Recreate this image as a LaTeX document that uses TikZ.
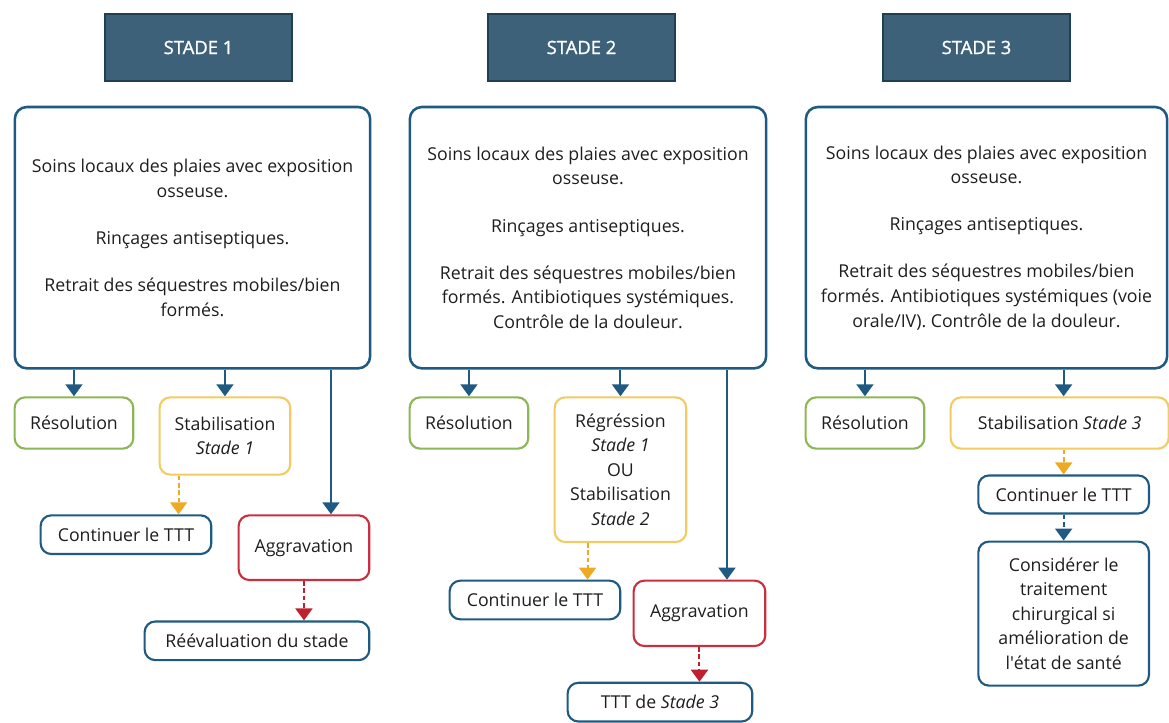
\documentclass[tikz,border=0pt]{standalone}
\usepackage{fontspec}
\setmainfont{Open Sans}
\newfontfamily\stadefont[FakeBold=1.2]{Open Sans}
\usetikzlibrary{positioning, arrows.meta, calc}
\definecolor{bleu}{HTML}{1E5A82}
\definecolor{fondstade}{HTML}{3D6179}
\definecolor{bordstade}{HTML}{1E3F55}
\definecolor{vert}{HTML}{8DB654}
\definecolor{jaune}{HTML}{F2CB62}
\definecolor{ambre}{HTML}{EDAA22}
\definecolor{rouge}{HTML}{C83040}
\definecolor{rougef}{HTML}{C0202E}
\definecolor{texte}{HTML}{1E1E1E}

\begin{document}
\begin{tikzpicture}[x=0.75pt, y=-0.75pt, font=\fontsize{13.3}{18.4}\selectfont, text=texte,
    stade/.style={draw=bordstade, fill=fondstade, line width=1.1pt, text=white, minimum width=140.25pt, minimum height=50.25pt, font=\fontsize{13.8}{18.4}\stadefont},
    soins/.style={draw=bleu, line width=1.9pt, rounded corners=9pt, align=center, inner sep=0pt, minimum height=196pt},
    bloc/.style={line width=1.6pt, rounded corners=8pt, align=center, inner sep=0pt},
    resol/.style={bloc, draw=vert, minimum width=89pt, minimum height=38.5pt},
    stab/.style={bloc, draw=jaune},
    aggr/.style={bloc, draw=rouge},
    ttt/.style={bloc, draw=bleu},
    fleche/.style={-{Triangle[width=12.75pt,length=9pt]}, line width=1.5pt, bleu},
    tirets/.style={dash pattern=on 3.5pt off 2pt}]
        \path[use as bounding box, clip] (0,0) rectangle (1169,722);

        \node[stade] (T1) at (198.5,47.5) {STADE 1};
        \node[stade] (T2) at (581.5,47.5) {STADE 2};
        \node[stade] (T3) at (976.5,47.5) {STADE 3};

        \node[soins, minimum width=266.5pt, below=18pt of T1, xshift=-4.5pt] (B1)
        {Soins locaux des plaies avec exposition\\osseuse.\\[17pt]Rinçages antiseptiques.\\[17pt]Retrait des séquestres mobiles/bien\\formés.};
        \node[soins, minimum width=267.25pt, below=18pt of T2, xshift=4.875pt] (B2)
        {Soins locaux des plaies avec exposition\\osseuse.\\[17pt]Rinçages antiseptiques.\\[17pt]Retrait des séquestres mobiles/bien\\formés. Antibiotiques systémiques.\\Contrôle de la douleur.};
        \node[soins, minimum width=271pt, below=18pt of T3, xshift=7.5pt] (B3)
        {Soins locaux des plaies avec exposition\\osseuse.\\[17pt]Rinçages antiseptiques.\\[17pt]Retrait des séquestres mobiles/bien\\formés. Antibiotiques systémiques (voie\\orale/IV). Contrôle de la douleur.};

        \node[resol, below right=20pt and 0pt of B1.south west] (R1) {Résolution};
        \node[stab, minimum width=98pt, minimum height=58pt, below right=20pt and 108.75pt of B1.south west] (St1) {Stabilisation\\\textit{Stade 1}};
        \node[ttt, minimum width=128pt, minimum height=29pt, below right=108.5pt and 19.5pt of B1.south west] (C1) {Continuer le TTT};
        \node[aggr, minimum width=98pt, minimum height=48.5pt, below right=108.5pt and 168pt of B1.south west] (A1) {Aggravation};
        \node[ttt, minimum width=168.5pt, minimum height=29pt, below left=29.5pt and 0pt of A1.south east] (E1) {Réévaluation du stade};

        \node[resol, below right=20pt and 0pt of B2.south west] (R2) {Résolution};
        \node[stab, minimum width=98.75pt, minimum height=108.5pt, below right=20pt and 108.75pt of B2.south west] (G2) {Régréssion\\\textit{Stade 1}\\OU\\Stabilisation\\\textit{Stade 2}};
        \node[ttt, minimum width=128pt, minimum height=29pt, below right=157.5pt and 30pt of B2.south west] (C2) {Continuer le TTT};
        \node[aggr, minimum width=98.75pt, minimum height=49pt, below right=157.5pt and 168pt of B2.south west] (A2) {Aggravation};
        \node[ttt, minimum width=138.5pt, minimum height=29pt, below=26pt of A2, xshift=-29.625pt] (X2) {TTT de \textit{Stade 3}};

        \node[resol, below right=20pt and 0pt of B3.south west] (R3) {Résolution};
        \node[stab, minimum width=163.5pt, minimum height=38.5pt, below right=20pt and 108.75pt of B3.south west] (S3) {Stabilisation \textit{Stade 3}};
        \node[ttt, minimum width=128pt, minimum height=28.5pt, below=18.5pt of S3, xshift=3pt] (C3) {Continuer le TTT};
        \node[ttt, minimum width=128pt, minimum height=108pt, below=19.5pt of C3] (K3) {Considérer le\\traitement\\chirurgical si\\amélioration de\\l\textquotesingle état de santé};

        \coordinate (a1) at ([xshift=20.25pt]A1.north);
        \coordinate (s1) at ([xshift=15pt]St1.south west);
        \draw[fleche] (R1.north |- B1.south) -- (R1.north);
        \draw[fleche] (St1.north |- B1.south) -- (St1.north);
        \draw[fleche] (a1 |- B1.south) -- (a1);
        \draw[fleche, ambre, tirets] (s1) -- (s1 |- C1.north);
        \draw[fleche, rougef, tirets] (A1.south) -- (A1.south |- E1.north);

        \coordinate (a2) at ([xshift=20.625pt]A2.north);
        \coordinate (g2) at ([xshift=25.5pt]G2.south west);
        \draw[fleche] (R2.north |- B2.south) -- (R2.north);
        \draw[fleche] (G2.north |- B2.south) -- (G2.north);
        \draw[fleche] (a2 |- B2.south) -- (a2);
        \draw[fleche, ambre, tirets] (g2) -- (g2 |- C2.north);
        \draw[fleche, rougef, tirets] (A2.south) -- (A2.south |- X2.north);

        \draw[fleche] (R3.north |- B3.south) -- (R3.north);
        \draw[fleche] (C3.north |- B3.south) -- (C3.north |- S3.north);
        \draw[fleche, ambre, tirets] (C3.north |- S3.south) -- (C3.north);
        \draw[fleche, tirets] (C3.south) -- (K3.north);

    \end{tikzpicture}
\end{document}
